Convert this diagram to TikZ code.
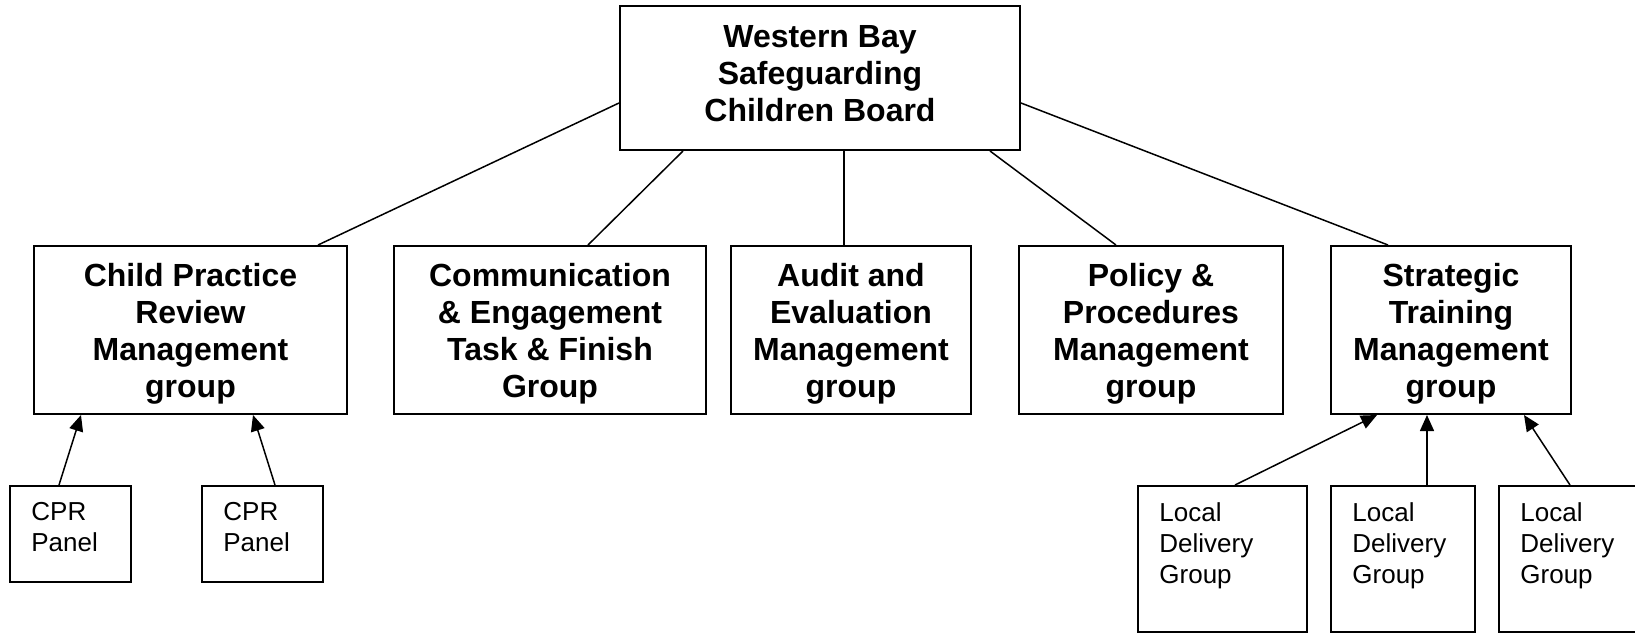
\documentclass[tikz,border=0pt]{standalone}
\usepackage{fontspec}
\setmainfont{Liberation Sans}
\usetikzlibrary{arrows.meta}
\newcommand{\boxstrut}{\rule{0pt}{15.7pt}}

\begin{document}
\begin{tikzpicture}[x=0.5pt, y=-0.5pt]
  \tikzset{
    heading/.style={draw, line width=1pt, inner sep=0pt, align=center,
      font=\fontsize{16}{18.5}\selectfont\bfseries},
    box/.style={heading, minimum height=84pt},
    panel/.style={draw, line width=1pt, inner sep=0pt, minimum height=48pt},
    delivery/.style={draw, line width=1pt, inner sep=0pt, minimum height=73pt},
    inset/.style={anchor=north west, inner sep=0pt, xshift=11pt, yshift=-8.5pt,
      align=left, font=\fontsize{13}{15.5}\selectfont},
    link/.style={line width=0.75pt},
    feed/.style={line width=0.75pt, -{Triangle[length=8pt,width=7pt]}}
  }
  \useasboundingbox (0,0) rectangle (1635,634);

  % the board
  \node[heading, minimum width=200pt, minimum height=72pt] (board) at (820,78)
    {Western Bay\\Safeguarding\\Children Board\rule[-5pt]{0pt}{0pt}};

  % management groups
  \node[box, minimum width=156.5pt] (cprmg) at (190.5,330)
    {\boxstrut Child Practice\\Review\\Management\\group};
  \node[box, minimum width=156pt] (comm) at (550,330)
    {\boxstrut Communication\\\& Engagement\\Task \& Finish\\Group};
  \node[box, minimum width=120pt] (audit) at (851,330)
    {\boxstrut Audit and\\Evaluation\\Management\\group};
  \node[box, minimum width=132pt] (policy) at (1151,330)
    {\boxstrut Policy \&\\Procedures\\Management\\group};
  \node[box, minimum width=120pt] (strat) at (1451,330)
    {\boxstrut Strategic\\Training\\Management\\group};

  % panels and delivery groups
  \node[panel, minimum width=60.5pt, label={[inset]north west:CPR\\Panel}] (cpra) at (70.5,534) {};
  \node[panel, minimum width=60.5pt, label={[inset]north west:CPR\\Panel}] (cprb) at (262.5,534) {};
  \node[delivery, minimum width=84.5pt, label={[inset]north west:Local\\Delivery\\Group}] (ldga) at (1222.5,559) {};
  \node[delivery, minimum width=72pt, label={[inset]north west:Local\\Delivery\\Group}] (ldgb) at (1403,559) {};
  \node[delivery, minimum width=72pt, label={[inset]north west:Local\\Delivery\\Group}] (ldgc) at (1571,559) {};

  \draw[link] ([yshift=24pt]board.south west) -- ([xshift=-15pt]cprmg.north east);
  \draw[link] ([xshift=32pt]board.south west) -- ([xshift=19pt]comm.north);
  \draw[link] ([xshift=12pt]board.south) -- ([xshift=-3.5pt]audit.north);
  \draw[link] ([xshift=-15.5pt]board.south east) -- ([xshift=-17.5pt]policy.north);
  \draw[link] ([yshift=24pt]board.south east) -- ([xshift=-31.5pt]strat.north);

  \draw[feed] ([xshift=-5.75pt]cpra.north) -- ([xshift=24pt]cprmg.south west);
  \draw[feed] ([xshift=6.25pt]cprb.north) -- ([xshift=31.25pt]cprmg.south);
  \draw[feed] ([xshift=6.25pt]ldga.north) -- ([xshift=-37pt]strat.south);
  \draw[feed] ([xshift=12pt]ldgb.north) -- ([xshift=-12pt]strat.south);
  \draw[feed] ([xshift=36pt]ldgc.north west) -- ([xshift=36.5pt]strat.south);
\end{tikzpicture}
\end{document}
